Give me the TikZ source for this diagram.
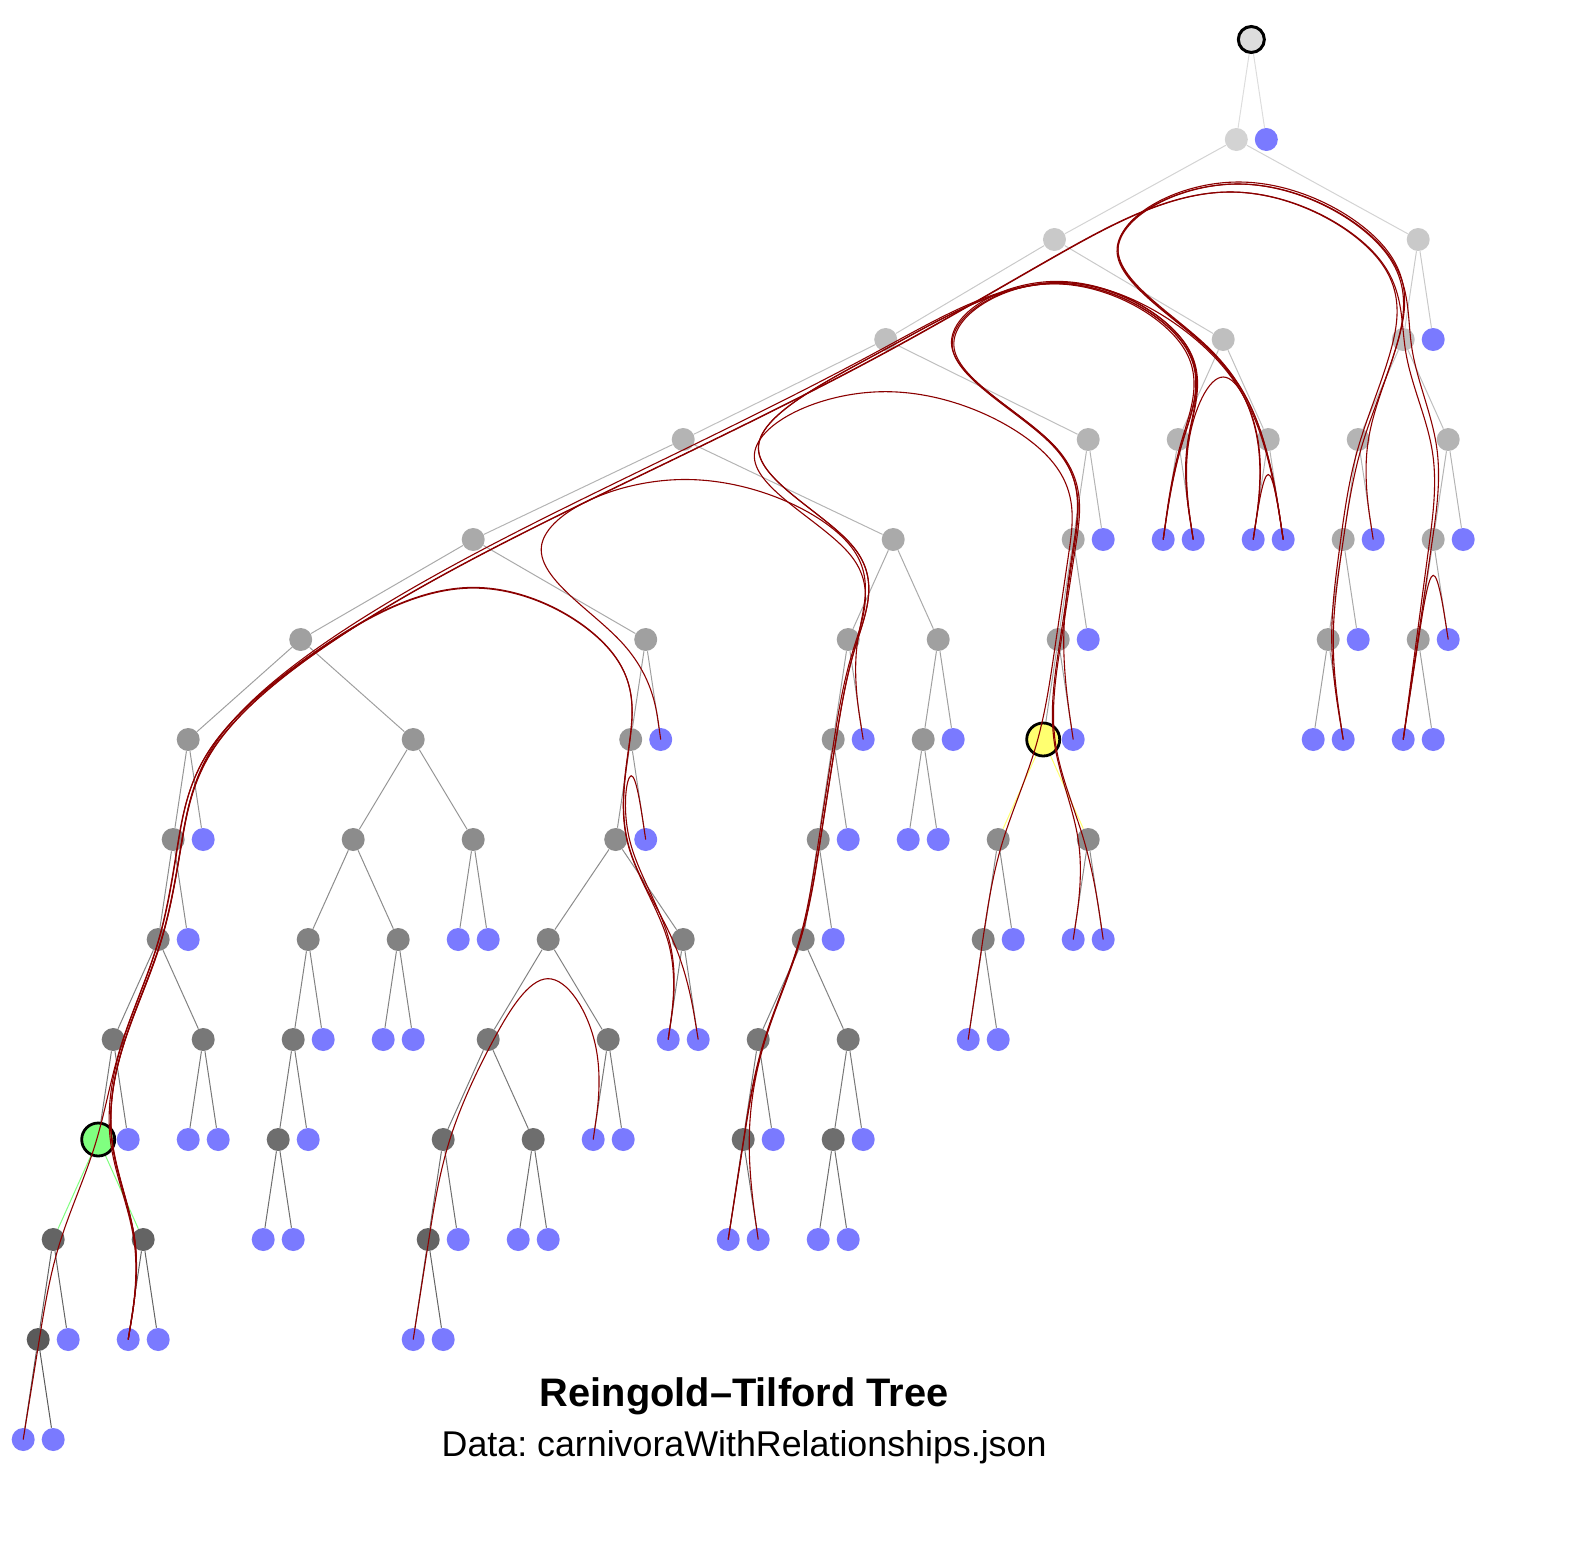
\documentclass[tikz,border=0pt]{standalone}
\usepackage{fontspec}
\setmainfont{Liberation Sans}
\frenchspacing
\pgfdeclarelayer{edgelayer}
\pgfsetlayers{edgelayer,main}
\definecolor{g0}{RGB}{221,221,221}
\definecolor{g1}{RGB}{211,211,211}
\definecolor{g2}{RGB}{201,201,201}
\definecolor{g3}{RGB}{191,191,191}
\definecolor{g4}{RGB}{180,180,180}
\definecolor{g5}{RGB}{170,170,170}
\definecolor{g6}{RGB}{160,160,160}
\definecolor{g7}{RGB}{150,150,150}
\definecolor{g8}{RGB}{140,140,140}
\definecolor{g9}{RGB}{130,130,130}
\definecolor{g10}{RGB}{120,120,120}
\definecolor{g11}{RGB}{110,110,110}
\definecolor{g12}{RGB}{100,100,100}
\definecolor{g13}{RGB}{90,90,90}
\definecolor{leafblue}{RGB}{122,122,255}
\definecolor{hlgreen}{RGB}{128,255,128}
\definecolor{hlyellow}{RGB}{255,255,112}
\definecolor{relred}{RGB}{139,0,0}
\tikzset{
  inode/.style={circle,inner sep=0pt,minimum size=11.5pt,fill=#1},
  lnode/.style={circle,inner sep=0pt,minimum size=11.5pt,fill=leafblue},
  hnode/.style={circle,inner sep=0pt,minimum size=16.5pt,fill=#1,draw=black,line width=1.4pt},
  tedge/.style={draw=#1,line width=0.5pt},
  relline/.style={draw=relred,line width=0.55pt},
}
\makeatletter
\newcount\bdlN
\def\bdlbeta{0.975}
\def\bdlQX#1{\csname bdqx#1\endcsname}
\def\bdlQY#1{\csname bdqy#1\endcsname}
\newcommand\bdlseg[6]{%
  \pgfmathsetmacro\bdlcax{(2*(#1)+(#3))/3}%
  \pgfmathsetmacro\bdlcay{(2*(#2)+(#4))/3}%
  \pgfmathsetmacro\bdlcbx{((#1)+2*(#3))/3}%
  \pgfmathsetmacro\bdlcby{((#2)+2*(#4))/3}%
  \pgfmathsetmacro\bdlex{((#1)+4*(#3)+(#5))/6}%
  \pgfmathsetmacro\bdley{((#2)+4*(#4)+(#6))/6}%
  \xdef\bdlpath{\bdlpath .. controls (\bdlcax pt,\bdlcay pt) and (\bdlcbx pt,\bdlcby pt) .. (\bdlex pt,\bdley pt)}%
}
\newcommand\bundle[1]{%
  \global\bdlN=0
  \foreach \bdlnm in {#1}{%
    \pgfpointanchor{\bdlnm}{center}%
    \global\advance\bdlN by 1
    \expandafter\xdef\csname bdlx\the\bdlN\endcsname{\strip@pt\pgf@x}%
    \expandafter\xdef\csname bdly\the\bdlN\endcsname{\strip@pt\pgf@y}%
  }%
  \edef\bdlNN{\the\bdlN}%
  \edef\bdlxA{\csname bdlx1\endcsname}%
  \edef\bdlyA{\csname bdly1\endcsname}%
  \edef\bdlxB{\csname bdlx\bdlNN\endcsname}%
  \edef\bdlyB{\csname bdly\bdlNN\endcsname}%
  \foreach \bdli in {1,...,\bdlNN}{%
    \edef\bdlcx{\csname bdlx\bdli\endcsname}%
    \edef\bdlcy{\csname bdly\bdli\endcsname}%
    \pgfmathsetmacro\bdltx{\bdlbeta*(\bdlcx)+(1-\bdlbeta)*((\bdlxA)+((\bdlxB)-(\bdlxA))*(\bdli-1)/(\bdlNN-1))}%
    \pgfmathsetmacro\bdlty{\bdlbeta*(\bdlcy)+(1-\bdlbeta)*((\bdlyA)+((\bdlyB)-(\bdlyA))*(\bdli-1)/(\bdlNN-1))}%
    \expandafter\xdef\csname bdqx\bdli\endcsname{\bdltx}%
    \expandafter\xdef\csname bdqy\bdli\endcsname{\bdlty}%
  }%
  \pgfmathsetmacro\bdlax{(5*(\bdlQX{1})+(\bdlQX{2}))/6}%
  \pgfmathsetmacro\bdlay{(5*(\bdlQY{1})+(\bdlQY{2}))/6}%
  \xdef\bdlpath{(\bdlQX{1}pt,\bdlQY{1}pt) -- (\bdlax pt,\bdlay pt)}%
  \foreach \bdlk in {3,...,\bdlNN}{%
    \pgfmathtruncatemacro\bdlia{\bdlk-2}%
    \pgfmathtruncatemacro\bdlib{\bdlk-1}%
    \bdlseg{\bdlQX{\bdlia}}{\bdlQY{\bdlia}}{\bdlQX{\bdlib}}{\bdlQY{\bdlib}}{\bdlQX{\bdlk}}{\bdlQY{\bdlk}}%
  }%
  \pgfmathtruncatemacro\bdlim{\bdlNN-1}%
  \bdlseg{\bdlQX{\bdlim}}{\bdlQY{\bdlim}}{\bdlQX{\bdlNN}}{\bdlQY{\bdlNN}}{\bdlQX{\bdlNN}}{\bdlQY{\bdlNN}}%
  \xdef\bdlpath{\bdlpath -- (\bdlQX{\bdlNN}pt,\bdlQY{\bdlNN}pt)}%
  \edef\bdltmp{\noexpand\draw[relline] \bdlpath;}%
  \bdltmp
}
\makeatother
\begin{document}
\begin{tikzpicture}[x=15pt,y=-50pt]
\useasboundingbox (-0.7733,-0.395) rectangle (52.0267,15.185);
% level 0
\node[circle,inner sep=0pt,minimum size=13pt,fill=g0,draw=black,line width=1.5pt] (root) at (40.9375,0) {};
% level 1
\node[inode=g1] (A) at (40.4375,1) {};
\node[lnode] (Al) at (41.4375,1) {};
% level 2
\node[inode=g2] (B) at (34.375,2) {};
\node[inode=g2] (C) at (46.5,2) {};
% level 3
\node[inode=g3] (D) at (28.75,3) {};
\node[inode=g3] (E) at (40,3) {};
\node[inode=g3] (F) at (46,3) {};
\node[lnode] (Cl) at (47,3) {};
% level 4
\node[inode=g4] (G) at (22,4) {};
\node[inode=g4] (H) at (35.5,4) {};
\node[inode=g4] (I) at (38.5,4) {};
\node[inode=g4] (J) at (41.5,4) {};
\node[inode=g4] (K) at (44.5,4) {};
\node[inode=g4] (L) at (47.5,4) {};
% level 5
\node[inode=g5] (M) at (15,5) {};
\node[inode=g5] (N) at (29,5) {};
\node[inode=g5] (O) at (35,5) {};
\node[lnode] (Hl) at (36,5) {};
\node[lnode] (Ia) at (38,5) {};
\node[lnode] (Ib) at (39,5) {};
\node[lnode] (Ja) at (41,5) {};
\node[lnode] (Jb) at (42,5) {};
\node[inode=g5] (P) at (44,5) {};
\node[lnode] (Kl) at (45,5) {};
\node[inode=g5] (Q) at (47,5) {};
\node[lnode] (Ll) at (48,5) {};
% level 6
\node[inode=g6] (R) at (9.25,6) {};
\node[inode=g6] (S) at (20.75,6) {};
\node[inode=g6] (T) at (27.5,6) {};
\node[inode=g6] (U) at (30.5,6) {};
\node[inode=g6] (V) at (34.5,6) {};
\node[lnode] (Ol) at (35.5,6) {};
\node[inode=g6] (W) at (43.5,6) {};
\node[lnode] (Pl) at (44.5,6) {};
\node[inode=g6] (X) at (46.5,6) {};
\node[lnode] (Ql) at (47.5,6) {};
% level 7
\node[inode=g7] (Y) at (5.5,7) {};
\node[inode=g7] (Z) at (13,7) {};
\node[inode=g7] (AA) at (20.25,7) {};
\node[lnode] (Sl) at (21.25,7) {};
\node[inode=g7] (AB) at (27,7) {};
\node[lnode] (Tl) at (28,7) {};
\node[inode=g7] (AC) at (30,7) {};
\node[lnode] (Ul) at (31,7) {};
\node[hnode=hlyellow] (AD) at (34,7) {};
\node[lnode] (Vl) at (35,7) {};
\node[lnode] (Wa) at (43,7) {};
\node[lnode] (Wb) at (44,7) {};
\node[lnode] (Xa) at (46,7) {};
\node[lnode] (Xb) at (47,7) {};
% level 8
\node[inode=g8] (AE) at (5,8) {};
\node[lnode] (Yl) at (6,8) {};
\node[inode=g8] (AF) at (11,8) {};
\node[inode=g8] (AG) at (15,8) {};
\node[inode=g8] (AH) at (19.75,8) {};
\node[lnode] (AAl) at (20.75,8) {};
\node[inode=g8] (AI) at (26.5,8) {};
\node[lnode] (ABl) at (27.5,8) {};
\node[lnode] (ACa) at (29.5,8) {};
\node[lnode] (ACb) at (30.5,8) {};
\node[inode=g8] (AJ) at (32.5,8) {};
\node[inode=g8] (AK) at (35.5,8) {};
% level 9
\node[inode=g9] (AL) at (4.5,9) {};
\node[lnode] (AEl) at (5.5,9) {};
\node[inode=g9] (AM) at (9.5,9) {};
\node[inode=g9] (AN) at (12.5,9) {};
\node[lnode] (AGa) at (14.5,9) {};
\node[lnode] (AGb) at (15.5,9) {};
\node[inode=g9] (AO) at (17.5,9) {};
\node[inode=g9] (AP) at (22,9) {};
\node[inode=g9] (AQ) at (26,9) {};
\node[lnode] (AIl) at (27,9) {};
\node[inode=g9] (AR) at (32,9) {};
\node[lnode] (AJl) at (33,9) {};
\node[lnode] (AKa) at (35,9) {};
\node[lnode] (AKb) at (36,9) {};
% level 10
\node[inode=g10] (AS) at (3,10) {};
\node[inode=g10] (AT) at (6,10) {};
\node[inode=g10] (AU) at (9,10) {};
\node[lnode] (AMl) at (10,10) {};
\node[lnode] (ANa) at (12,10) {};
\node[lnode] (ANb) at (13,10) {};
\node[inode=g10] (AV) at (15.5,10) {};
\node[inode=g10] (AW) at (19.5,10) {};
\node[lnode] (APa) at (21.5,10) {};
\node[lnode] (APb) at (22.5,10) {};
\node[inode=g10] (AX) at (24.5,10) {};
\node[inode=g10] (AY) at (27.5,10) {};
\node[lnode] (ARa) at (31.5,10) {};
\node[lnode] (ARb) at (32.5,10) {};
% level 11
\node[hnode=hlgreen] (AZ) at (2.5,11) {};
\node[lnode] (ASl) at (3.5,11) {};
\node[lnode] (ATa) at (5.5,11) {};
\node[lnode] (ATb) at (6.5,11) {};
\node[inode=g11] (BA) at (8.5,11) {};
\node[lnode] (AUl) at (9.5,11) {};
\node[inode=g11] (BB) at (14,11) {};
\node[inode=g11] (BC) at (17,11) {};
\node[lnode] (AWa) at (19,11) {};
\node[lnode] (AWb) at (20,11) {};
\node[inode=g11] (BD) at (24,11) {};
\node[lnode] (AXl) at (25,11) {};
\node[inode=g11] (BE) at (27,11) {};
\node[lnode] (AYl) at (28,11) {};
% level 12
\node[inode=g12] (BF) at (1,12) {};
\node[inode=g12] (BG) at (4,12) {};
\node[lnode] (BAa) at (8,12) {};
\node[lnode] (BAb) at (9,12) {};
\node[inode=g12] (BH) at (13.5,12) {};
\node[lnode] (BBl) at (14.5,12) {};
\node[lnode] (BCa) at (16.5,12) {};
\node[lnode] (BCb) at (17.5,12) {};
\node[lnode] (BDa) at (23.5,12) {};
\node[lnode] (BDb) at (24.5,12) {};
\node[lnode] (BEa) at (26.5,12) {};
\node[lnode] (BEb) at (27.5,12) {};
% level 13
\node[inode=g13] (BI) at (0.5,13) {};
\node[lnode] (BFl) at (1.5,13) {};
\node[lnode] (BGa) at (3.5,13) {};
\node[lnode] (BGb) at (4.5,13) {};
\node[lnode] (BHa) at (13,13) {};
\node[lnode] (BHb) at (14,13) {};
% level 14
\node[lnode] (BIa) at (0,14) {};
\node[lnode] (BIb) at (1,14) {};
% tree edges
\begin{pgfonlayer}{edgelayer}
\foreach \a/\b in {root/A,root/Al} \draw[tedge=g0] (\a)--(\b);
\foreach \a/\b in {A/B,A/C} \draw[tedge=g1] (\a)--(\b);
\foreach \a/\b in {B/D,B/E,C/F,C/Cl} \draw[tedge=g2] (\a)--(\b);
\foreach \a/\b in {D/G,D/H,E/I,E/J,F/K,F/L} \draw[tedge=g3] (\a)--(\b);
\foreach \a/\b in {G/M,G/N,H/O,H/Hl,I/Ia,I/Ib,J/Ja,J/Jb,K/P,K/Kl,L/Q,L/Ll} \draw[tedge=g4] (\a)--(\b);
\foreach \a/\b in {M/R,M/S,N/T,N/U,O/V,O/Ol,P/W,P/Pl,Q/X,Q/Ql} \draw[tedge=g5] (\a)--(\b);
\foreach \a/\b in {R/Y,R/Z,S/AA,S/Sl,T/AB,T/Tl,U/AC,U/Ul,V/AD,V/Vl,W/Wa,W/Wb,X/Xa,X/Xb} \draw[tedge=g6] (\a)--(\b);
\foreach \a/\b in {Y/AE,Y/Yl,Z/AF,Z/AG,AA/AH,AA/AAl,AB/AI,AB/ABl,AC/ACa,AC/ACb} \draw[tedge=g7] (\a)--(\b);
\foreach \a/\b in {AD/AJ,AD/AK} \draw[tedge=hlyellow] (\a)--(\b);
\foreach \a/\b in {AE/AL,AE/AEl,AF/AM,AF/AN,AG/AGa,AG/AGb,AH/AO,AH/AP,AI/AQ,AI/AIl,AJ/AR,AJ/AJl,AK/AKa,AK/AKb} \draw[tedge=g8] (\a)--(\b);
\foreach \a/\b in {AL/AS,AL/AT,AM/AU,AM/AMl,AN/ANa,AN/ANb,AO/AV,AO/AW,AP/APa,AP/APb,AQ/AX,AQ/AY,AR/ARa,AR/ARb} \draw[tedge=g9] (\a)--(\b);
\foreach \a/\b in {AS/AZ,AS/ASl,AT/ATa,AT/ATb,AU/BA,AU/AUl,AV/BB,AV/BC,AW/AWa,AW/AWb,AX/BD,AX/AXl,AY/BE,AY/AYl} \draw[tedge=g10] (\a)--(\b);
\foreach \a/\b in {AZ/BF,AZ/BG} \draw[tedge=hlgreen] (\a)--(\b);
\foreach \a/\b in {BA/BAa,BA/BAb,BB/BH,BB/BBl,BC/BCa,BC/BCb,BD/BDa,BD/BDb,BE/BEa,BE/BEb} \draw[tedge=g11] (\a)--(\b);
\foreach \a/\b in {BF/BI,BF/BFl,BG/BGa,BG/BGb,BH/BHa,BH/BHb} \draw[tedge=g12] (\a)--(\b);
\foreach \a/\b in {BI/BIa,BI/BIb} \draw[tedge=g13] (\a)--(\b);
\end{pgfonlayer}
% relationships (bundled)
\bundle{Sl,S,M,G,N,T,Tl}
\bundle{BHa,BH,BB,AV,AO,AW,AWa}
\bundle{AAl,AA,AH,AP,APa}
\bundle{Ql,Q,X,Xa}
\bundle{Ja,J,Jb}
\bundle{Ib,I,E,J,Ja}
\bundle{BGa,BG,AZ,AS,AL,AE,Y,R,M,S,AA,AH,AP,APa}
\bundle{BIa,BI,BF,AZ,AS,AL,AE,Y,R,M,S,AA,AH,AP,APb}
\bundle{BDa,BD,AX,AQ,AI,AB,T,N,G,D,H,O,V,AD,AJ,AR,ARa}
\bundle{BDb,BD,AX,AQ,AI,AB,T,N,G,D,B,E,I,Ia}
\bundle{BDa,BD,AX,AQ,AI,AB,T,N,G,D,B,E,I,Ib}
\bundle{Ia,I,E,B,D,H,O,V,Vl}
\bundle{Ib,I,E,B,D,H,O,V,AD,AK,AKa}
\bundle{Jb,J,E,B,D,H,O,V,AD,AK,AKb}
\bundle{Jb,J,E,B,A,C,F,K,Kl}
\bundle{Ja,J,E,B,A,C,F,K,P,W,Wb}
\bundle{Jb,J,E,B,A,C,F,L,Q,X,Xa}
\bundle{BGa,BG,AZ,AS,AL,AE,Y,R,M,G,D,B,A,C,F,K,P,W,Wb}
\bundle{BGa,BG,AZ,AS,AL,AE,Y,R,M,G,D,B,A,C,F,L,Q,X,Xa}
\bundle{BGa,BG,AZ,AS,AL,AE,Y,R,M,G,D,B,E,I,Ia}
% titles
\node[anchor=base,inner sep=0pt,font=\fontsize{19.9pt}{24pt}\selectfont\bfseries] (title) at (24.03,13.67) {Reingold–Tilford Tree};
\node[anchor=base,inner sep=0pt,font=\fontsize{17.9pt}{22pt}\selectfont] (subtitle) at (24.03,14.17) {Data: carnivoraWithRelationships.json};
\end{tikzpicture}
\end{document}
